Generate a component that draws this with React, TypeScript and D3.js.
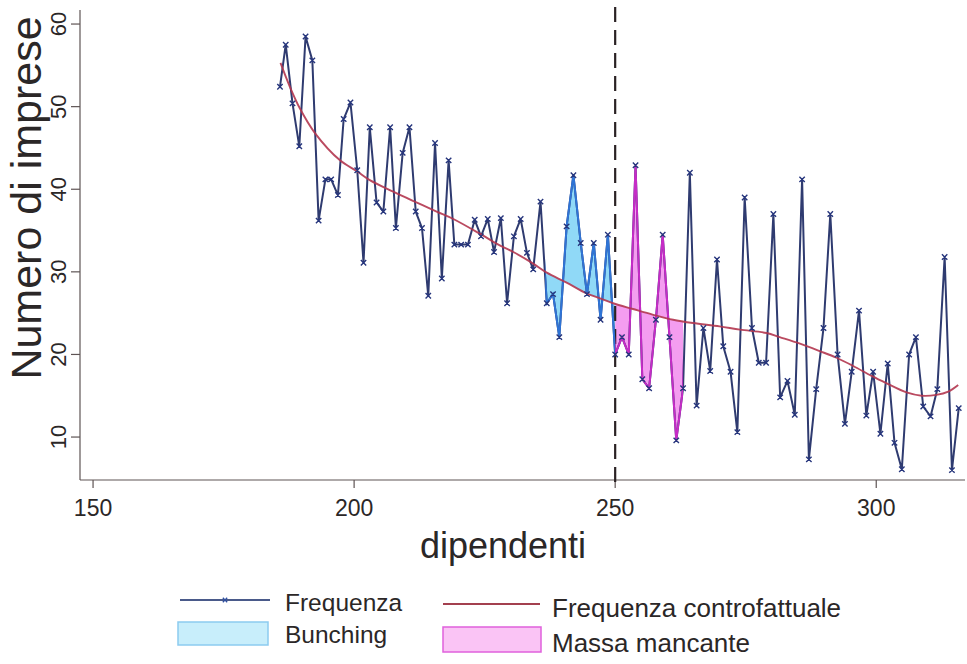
import React from "react";
import * as d3 from "d3";

// Frequenza osservata (dipendenti, numero di imprese)
const dipendenti = [
  185.8, 186.9, 188.2, 189.5, 190.7, 192.0, 193.2, 194.5, 195.6, 196.9,
  198.0, 199.3, 200.6, 201.8, 203.0, 204.3, 205.6, 206.9, 208.0, 209.3,
  210.6, 211.8, 213.0, 214.2, 215.5, 216.8, 218.1, 219.2, 220.5, 221.8,
  223.1, 224.3, 225.6, 226.8, 228.1, 229.3, 230.6, 231.9, 233.1, 234.3,
  235.7, 236.9, 238.1, 239.3, 240.7, 242.0, 243.4, 244.6, 245.9, 247.2,
  248.6, 250.0, 251.3, 252.6, 253.9, 255.2, 256.5, 257.8, 259.1, 260.4,
  261.7, 263.0, 264.3, 265.6, 266.9, 268.2, 269.5, 270.7, 272.1, 273.4,
  274.8, 276.2, 277.5, 278.9, 280.3, 281.6, 283.0, 284.4, 285.8, 287.1,
  288.5, 289.9, 291.2, 292.6, 294.0, 295.3, 296.7, 298.1, 299.4, 300.8,
  302.2, 303.5, 304.9, 306.3, 307.6, 309.0, 310.4, 311.7, 313.1, 314.5,
  315.8,
];
const frequenza = [
  52.4, 57.5, 50.4, 45.2, 58.5, 55.6, 36.2, 41.2, 41.2, 39.3,
  48.5, 50.5, 42.3, 31.1, 47.5, 38.4, 37.3, 47.5, 35.3, 44.4,
  47.5, 37.3, 35.3, 27.1, 45.6, 29.2, 43.5, 33.3, 33.3, 33.3,
  36.3, 34.3, 36.4, 32.4, 36.5, 26.2, 34.3, 36.4, 32.3, 30.3,
  38.5, 26.2, 27.3, 22.1, 35.5, 41.7, 33.5, 27.3, 33.5, 24.2,
  34.5, 20.0, 22.1, 20.0, 42.9, 17.0, 15.9, 24.2, 34.5, 22.1,
  9.6, 15.9, 42.0, 13.8, 23.2, 18.0, 31.5, 21.0, 17.9, 10.6,
  39.0, 23.2, 19.0, 19.0, 37.0, 14.8, 16.8, 12.7, 41.2, 7.3,
  15.8, 23.2, 37.0, 20.0, 11.6, 17.9, 25.3, 12.6, 17.9, 10.4,
  18.9, 9.3, 6.1, 20.0, 22.1, 13.7, 12.5, 15.8, 31.8, 6.0,
  13.5,
];

// Frequenza controfattuale
const cfDipendenti = [
  185.9, 187.7, 189.6, 192.5, 197.3, 200.5, 203.0, 207.5, 211.6, 215.8,
  219.0, 224.4, 227.9, 230.5, 234.3, 236.9, 240.7, 244.5, 247.1, 249.6,
  253.4, 257.3, 261.1, 264.9, 270.0, 273.9, 279.0, 281.5, 285.4, 289.2,
  292.4, 295.6, 299.1, 302.0, 305.8, 308.7, 311.5, 313.8, 315.7,
];
const cfFrequenza = [
  55.3, 52.4, 49.8, 46.8, 43.5, 42.2, 41.1, 39.7, 38.5, 37.3,
  36.4, 34.5, 33.2, 32.4, 31.0, 29.9, 28.7, 27.4, 26.8, 26.2,
  25.5, 24.8, 24.2, 23.8, 23.4, 23.0, 22.6, 22.1, 21.3, 20.4,
  19.6, 18.6, 17.4, 16.5, 15.4, 15.0, 15.1, 15.5, 16.3,
];

const xTicks = [150, 200, 250, 300];
const yTicks = [10, 20, 30, 40, 50, 60];
const soglia = 250;
const bunchingRange = [236.6, 250];
const mancanteRange = [250, 263.0];
const xTitle = "dipendenti";
const yTitle = "Numero di imprese";
const legendLabels = ["Frequenza", "Frequenza controfattuale", "Bunching", "Massa mancante"];

const FONT = "'Liberation Sans', Arial, Helvetica, sans-serif";
const TEXT = "#2b2727";
const AXIS = "#5e5454";

export default function App() {
  const W = 967;
  const H = 664;
  const x = d3.scaleLinear().domain([147.5, 317]).range([80, 965]);
  const y = d3.scaleLinear().domain([4.8, 61.7]).range([480, 10]);

  const pts: [number, number][] = dipendenti.map((d, i) => [d, frequenza[i]]);
  const cfPts: [number, number][] = cfDipendenti.map((d, i) => [d, cfFrequenza[i]]);

  const line = d3
    .line<[number, number]>()
    .x((d) => x(d[0]))
    .y((d) => y(d[1]));
  const cfLine = d3
    .line<[number, number]>()
    .x((d) => x(d[0]))
    .y((d) => y(d[1]))
    .curve(d3.curveCatmullRom.alpha(0.5));

  const regionPath = (r: number[]) => {
    const f = pts.filter((p) => p[0] >= r[0] - 3 && p[0] <= r[1] + 3);
    const c = cfPts.filter((p) => p[0] >= r[0] - 9 && p[0] <= r[1] + 9).reverse();
    return (line(f) as string) + (cfLine(c) as string).replace(/^M/, "L") + "Z";
  };

  const x0 = 80;
  const yBase = 480;
  const cross = (cx: number, cy: number, s: number) =>
    `M${cx - s},${cy - s}L${cx + s},${cy + s}M${cx - s},${cy + s}L${cx + s},${cy - s}`;

  return (
    <svg
      width={W}
      height={H}
      viewBox={`0 0 ${W} ${H}`}
      style={{ position: "absolute", left: 0, top: 0, background: "#fff" }}
      fontFamily={FONT}
    >
      <defs>
        <clipPath id="clipB">
          <rect x={x(bunchingRange[0])} y={0} width={x(bunchingRange[1]) - x(bunchingRange[0])} height={H} />
        </clipPath>
        <clipPath id="clipM">
          <rect x={x(mancanteRange[0])} y={0} width={x(mancanteRange[1]) - x(mancanteRange[0])} height={H} />
        </clipPath>
      </defs>
      <rect width={W} height={H} fill="#fff" />

      {/* axes */}
      <line x1={x0} x2={x0} y1={10} y2={yBase} stroke={AXIS} strokeWidth={1.2} />
      <line x1={x0} x2={965} y1={yBase} y2={yBase} stroke={AXIS} strokeWidth={1.2} />
      {yTicks.map((t) => (
        <g key={"y" + t}>
          <line x1={x0 - 9} x2={x0} y1={y(t)} y2={y(t)} stroke={AXIS} strokeWidth={1.2} />
          <text
            transform={`translate(66,${y(t)}) rotate(-90)`}
            textAnchor="middle"
            fontSize={22}
            fill={TEXT}
          >
            {t}
          </text>
        </g>
      ))}
      {xTicks.map((t) => (
        <g key={"x" + t}>
          <line x1={x(t)} x2={x(t)} y1={yBase} y2={yBase + 8} stroke={AXIS} strokeWidth={1.2} />
          <text x={x(t)} y={516} textAnchor="middle" fontSize={23} fill={TEXT}>
            {t}
          </text>
        </g>
      ))}
      <text x={503} y={558} textAnchor="middle" fontSize={36} fill={TEXT}>
        {xTitle}
      </text>
      <text
        transform={`translate(41,198) rotate(-90)`}
        textAnchor="middle"
        fontSize={43}
        fill={TEXT}
      >
        {yTitle}
      </text>

      {/* shaded areas */}
      <path d={regionPath(bunchingRange)} clipPath="url(#clipB)" fill="#7dd2f6" fillOpacity={0.85} stroke="none" />
      <path d={regionPath(mancanteRange)} clipPath="url(#clipM)" fill="#f28ced" fillOpacity={0.85} stroke="none" />

      {/* threshold */}
      <line
        x1={x(soglia)}
        x2={x(soglia)}
        y1={7}
        y2={yBase + 2}
        stroke="#2a2224"
        strokeWidth={2.2}
        strokeDasharray="15 8"
      />

      {/* frequency line */}
      <path d={line(pts) as string} fill="none" stroke="#2f3b70" strokeWidth={2} strokeLinejoin="round" />
      <path d={line(pts) as string} clipPath="url(#clipB)" fill="none" stroke="#2f74d6" strokeWidth={2} />
      <path d={line(pts) as string} clipPath="url(#clipM)" fill="none" stroke="#c62cc6" strokeWidth={2} />

      {/* counterfactual */}
      <path d={cfLine(cfPts) as string} fill="none" stroke="#b3364f" strokeWidth={1.9} strokeOpacity={0.9} />

      {/* markers */}
      <path
        d={pts.map((p) => cross(x(p[0]), y(p[1]), 2.7)).join("")}
        fill="none"
        stroke="#27367d"
        strokeWidth={1.4}
      />

      {/* legend */}
      <line x1={180} x2={270} y1={600} y2={600} stroke="#4a5a8a" strokeWidth={1.8} />
      <path d={cross(225, 600, 2.2)} stroke="#2f4fa0" strokeWidth={1.3} />
      <text x={285} y={611} fontSize={24.5} fill={TEXT}>
        {legendLabels[0]}
      </text>
      <line x1={443} x2={540} y1={604} y2={604} stroke="#a3404f" strokeWidth={1.8} />
      <text x={552} y={617} fontSize={26} fill={TEXT}>
        {legendLabels[1]}
      </text>
      <rect x={178} y={622} width={90} height={23} fill="#c8eefb" stroke="#8ccbf0" strokeWidth={1.5} />
      <text x={285} y={643} fontSize={24.5} fill={TEXT}>
        {legendLabels[2]}
      </text>
      <rect x={443} y={627} width={98} height={25} fill="#fac4f5" stroke="#e060dc" strokeWidth={1.5} />
      <text x={552} y={652} fontSize={26} fill={TEXT}>
        {legendLabels[3]}
      </text>
    </svg>
  );
}
